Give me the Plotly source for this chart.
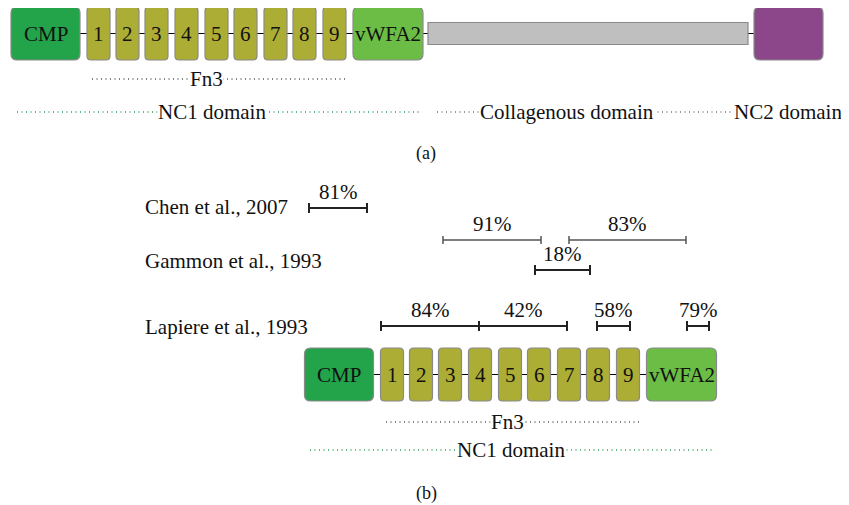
import plotly.graph_objects as go

# ---------------- data ----------------
# domain architecture (panel a), positions along the protein in diagram units
dom_names = ["CMP", "1", "2", "3", "4", "5", "6", "7", "8", "9", "vWFA2", "", ""]
dom_kind = ["cmp", "fn3", "fn3", "fn3", "fn3", "fn3", "fn3", "fn3", "fn3", "fn3", "vwfa", "col", "nc2"]
dom_start = [11, 87, 116, 145, 175, 205, 234, 264, 293, 323, 353, 428, 754]
dom_end = [80, 110, 139, 168, 198, 228, 257, 287, 316, 346, 423, 748, 823]
# panel b shows the NC1 part only, shifted
b_count = 11
b_shift = 293.5

# dotted region guides (start, end, colour, y)
guides_a = [(92, 348, "#555555", 79), (17, 420, "#2e9e5a", 112), (437, 733, "#777777", 112)]
guides_b = [(386, 640, "#555555", 422), (310, 713, "#2e9e5a", 450)]
# region labels (label, centre x, y)
labels_a = [("Fn3", 206, 79), ("NC1 domain", 212, 112), ("Collagenous domain", 567, 112),
            ("NC2 domain", 788, 112)]
labels_b = [("Fn3", 507, 422), ("NC1 domain", 511, 450)]

# studies and identity spans
studies = ["Chen et al., 2007", "Gammon et al., 1993", "Lapiere et al., 1993"]
study_y = [207, 261, 327]
span_label = ["81%", "91%", "83%", "18%", "84%", "42%", "58%", "79%"]
span_start = [309, 443, 569, 535, 381, 479, 597, 687]
span_end = [367, 541, 686, 590, 479, 567, 630, 709]
span_y = [208, 240, 240, 270, 326, 326, 326, 326]
span_dark = [True, False, False, True, True, True, True, True]

colors = {"cmp": "#23a34a", "fn3": "#acad35", "vwfa": "#6cbd45",
          "col": "#bfbfbf", "nc2": "#8c478b"}

FONT = "'Liberation Serif', 'DejaVu Serif', serif"
FS = 21

fig = go.Figure()
shapes = []
annotations = []


def rrect(x0, y0, x1, y1, r):
    return (f"M {x0+r},{y0} L {x1-r},{y0} Q {x1},{y0} {x1},{y0+r} "
            f"L {x1},{y1-r} Q {x1},{y1} {x1-r},{y1} L {x0+r},{y1} "
            f"Q {x0},{y1} {x0},{y1-r} L {x0},{y0+r} Q {x0},{y0} {x0+r},{y0} Z")


def draw_row(names, kinds, starts, ends, top, bottom):
    cy = (top + bottom) / 2
    shapes.append(dict(type="line", xref="x", yref="y", x0=starts[0], x1=ends[-1],
                       y0=cy, y1=cy, line=dict(color="black", width=1.2), layer="below"))
    for n, k, s, e in zip(names, kinds, starts, ends):
        if k == "col":
            shapes.append(dict(type="rect", xref="x", yref="y", x0=s, x1=e,
                               y0=cy - 11, y1=cy + 11, fillcolor=colors[k],
                               line=dict(color="#8a8a8a", width=1.2)))
        else:
            r = 6 if k != "fn3" else 4
            shapes.append(dict(type="path", xref="x", yref="y",
                               path=rrect(s, top, e, bottom, r), fillcolor=colors[k],
                               line=dict(color="#8a8a8a", width=1.2)))
        if n:
            annotations.append(dict(x=(s + e) / 2, y=cy, xref="x", yref="y", text=n,
                                    showarrow=False, font=dict(family=FONT, size=FS, color="#111"),
                                    xanchor="center", yanchor="middle"))


def draw_regions(guides, labels):
    for x0, x1, col, y in guides:
        shapes.append(dict(type="line", xref="x", yref="y", x0=x0, x1=x1, y0=y, y1=y,
                           line=dict(color=col, width=1.3, dash="1px,3.5px"), layer="below"))
    for lab, cx, y in labels:
        annotations.append(dict(x=cx, y=y, xref="x", yref="y", text=lab, showarrow=False,
                                font=dict(family=FONT, size=FS, color="#111"),
                                bgcolor="white", borderpad=0,
                                xanchor="center", yanchor="middle"))


# panel a
draw_row(dom_names, dom_kind, dom_start, dom_end, 7, 60)
draw_regions(guides_a, labels_a)
annotations.append(dict(x=426, y=153, xref="x", yref="y", text="(a)", showarrow=False,
                        font=dict(family=FONT, size=18, color="#111")))

# panel b
draw_row(dom_names[:b_count], dom_kind[:b_count],
         [s + b_shift for s in dom_start[:b_count]],
         [e + b_shift for e in dom_end[:b_count]], 348, 401)
draw_regions(guides_b, labels_b)
annotations.append(dict(x=426, y=493, xref="x", yref="y", text="(b)", showarrow=False,
                        font=dict(family=FONT, size=18, color="#111")))

for s, y in zip(studies, study_y):
    annotations.append(dict(x=143, y=y, xref="x", yref="y", text=s, showarrow=False,
                            font=dict(family=FONT, size=FS, color="#111"),
                            xanchor="left", yanchor="middle"))

for lab, s, e, y, dark in zip(span_label, span_start, span_end, span_y, span_dark):
    col = "#222222" if dark else "#555555"
    w = 2 if dark else 1.5
    th = 5 if dark else 4
    shapes.append(dict(type="line", xref="x", yref="y", x0=s, x1=e, y0=y, y1=y,
                       line=dict(color=col, width=w)))
    for xx in (s, e):
        shapes.append(dict(type="line", xref="x", yref="y", x0=xx, x1=xx,
                           y0=y - th, y1=y + th, line=dict(color=col, width=w)))
    annotations.append(dict(x=(s + e) / 2, y=y - 16, xref="x", yref="y", text=lab,
                            showarrow=False, font=dict(family=FONT, size=FS, color="#111"),
                            xanchor="center", yanchor="middle"))

# the page body has an 8px margin: size the figure and ranges so that
# diagram units coincide with window pixels
fig.update_layout(
    width=841, height=497,
    margin=dict(l=0, r=0, t=0, b=0),
    paper_bgcolor="white", plot_bgcolor="white",
    xaxis=dict(range=[8, 849], visible=False, fixedrange=True),
    yaxis=dict(range=[505, 8], visible=False, fixedrange=True),
    shapes=shapes, annotations=annotations, showlegend=False,
)
fig.write_html("out.html")
